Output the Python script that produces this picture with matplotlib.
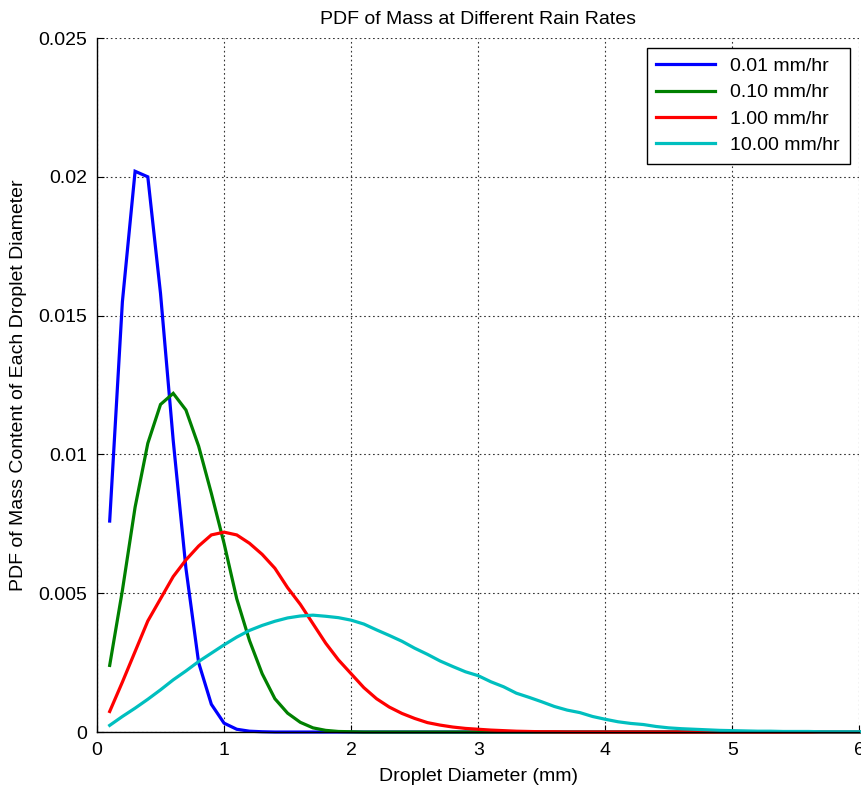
import matplotlib
matplotlib.use("Agg")
import matplotlib.pyplot as plt
import numpy as np

plt.rcParams['font.family'] = ['Liberation Sans', 'DejaVu Sans']

# droplet diameters (mm), sampled every 0.1 mm
diameter = np.round(np.arange(1, 61) * 0.1, 1)

# PDF values, one list per rain rate
pdf_001 = [0.0076, 0.0155, 0.0202, 0.0200, 0.0158, 0.0105, 0.0059, 0.0025, 0.0010, 0.00032,
           0.0001, 0.00003, 0.00001] + [0.0] * 47
pdf_010 = [0.0024, 0.0051, 0.0081, 0.0104, 0.0118, 0.0122, 0.0116, 0.0103, 0.0086, 0.0068,
           0.0048, 0.0033, 0.0021, 0.0012, 0.00068, 0.00035, 0.00015, 0.00006, 0.00002, 0.00001] + [0.0] * 40
pdf_100 = [0.00074, 0.0018, 0.0029, 0.0040, 0.0048, 0.0056, 0.0062, 0.0067, 0.0071, 0.0072,
           0.0071, 0.0068, 0.0064, 0.0059, 0.0052, 0.0046, 0.0039, 0.0032, 0.0026, 0.0021,
           0.0016, 0.0012, 0.0009, 0.00067, 0.00049, 0.00034, 0.00025, 0.00018, 0.00013, 0.0001,
           0.00007, 0.00005, 0.00003, 0.00002, 0.00001, 0.00001] + [0.0] * 24
pdf_1000 = [0.00024, 0.00056, 0.00086, 0.00118, 0.00152, 0.00188, 0.0022, 0.00254, 0.00284, 0.00314,
            0.00342, 0.00366, 0.00384, 0.00399, 0.00411, 0.00418, 0.00421, 0.00417, 0.00412, 0.00403,
            0.00389, 0.00368, 0.00348, 0.00327, 0.00302, 0.0028, 0.00256, 0.00236, 0.00217, 0.00203,
            0.00181, 0.00163, 0.0014, 0.00125, 0.00109, 0.00092, 0.00079, 0.0007, 0.00056, 0.00046,
            0.00037, 0.00031, 0.00027, 0.0002, 0.00015, 0.00012, 0.0001, 0.00008, 0.00006, 0.00005,
            0.00004, 0.00003, 0.00003, 0.00002, 0.00002, 0.00002, 0.00001, 0.00001, 0.00001, 0.00001]

labels = ['0.01 mm/hr', '0.10 mm/hr', '1.00 mm/hr', '10.00 mm/hr']
colors = ['#0000ff', '#008000', '#ff0000', '#00bfbf']
x_ticks = [0, 1, 2, 3, 4, 5, 6]
y_ticks = [0, 0.005, 0.01, 0.015, 0.02, 0.025]
y_tick_labels = ['0', '0.005', '0.01', '0.015', '0.02', '0.025']

fig = plt.figure(figsize=(8.62, 7.89), dpi=100)
ax = fig.add_axes([0.1125, 0.0722, 0.8845, 0.8796])

for series, lab, col in zip([pdf_001, pdf_010, pdf_100, pdf_1000], labels, colors):
    ax.plot(diameter, series, color=col, lw=2.3, label=lab, clip_on=False, solid_joinstyle='miter')

ax.set_xlim(0, 6)
ax.set_ylim(0, 0.025)
ax.set_xticks(x_ticks)
ax.set_yticks(y_ticks)
ax.set_yticklabels(y_tick_labels)
ax.tick_params(direction='in', length=5, labelsize=14, pad=7)

ax.grid(True, color='0.2', linestyle=(0, (1.5, 2.5)), linewidth=0.8)
ax.set_axisbelow(True)
for side in ['top', 'right']:
    ax.spines[side].set_visible(False)
for side in ['left', 'bottom']:
    ax.spines[side].set_linewidth(1.0)

ax.set_title('PDF of Mass at Different Rain Rates', fontsize=14, pad=10)
ax.set_xlabel('Droplet Diameter (mm)', fontsize=14, labelpad=7)
ax.set_ylabel('PDF of Mass Content of Each Droplet Diameter', fontsize=14, labelpad=8)

leg = ax.legend(loc='upper right', fontsize=14, fancybox=False, framealpha=1,
                edgecolor='k', handlelength=3.0, borderaxespad=0.5, labelspacing=0.45,
                borderpad=0.5)
leg.get_frame().set_linewidth(1.0)

fig.savefig('out.png', dpi=100)
